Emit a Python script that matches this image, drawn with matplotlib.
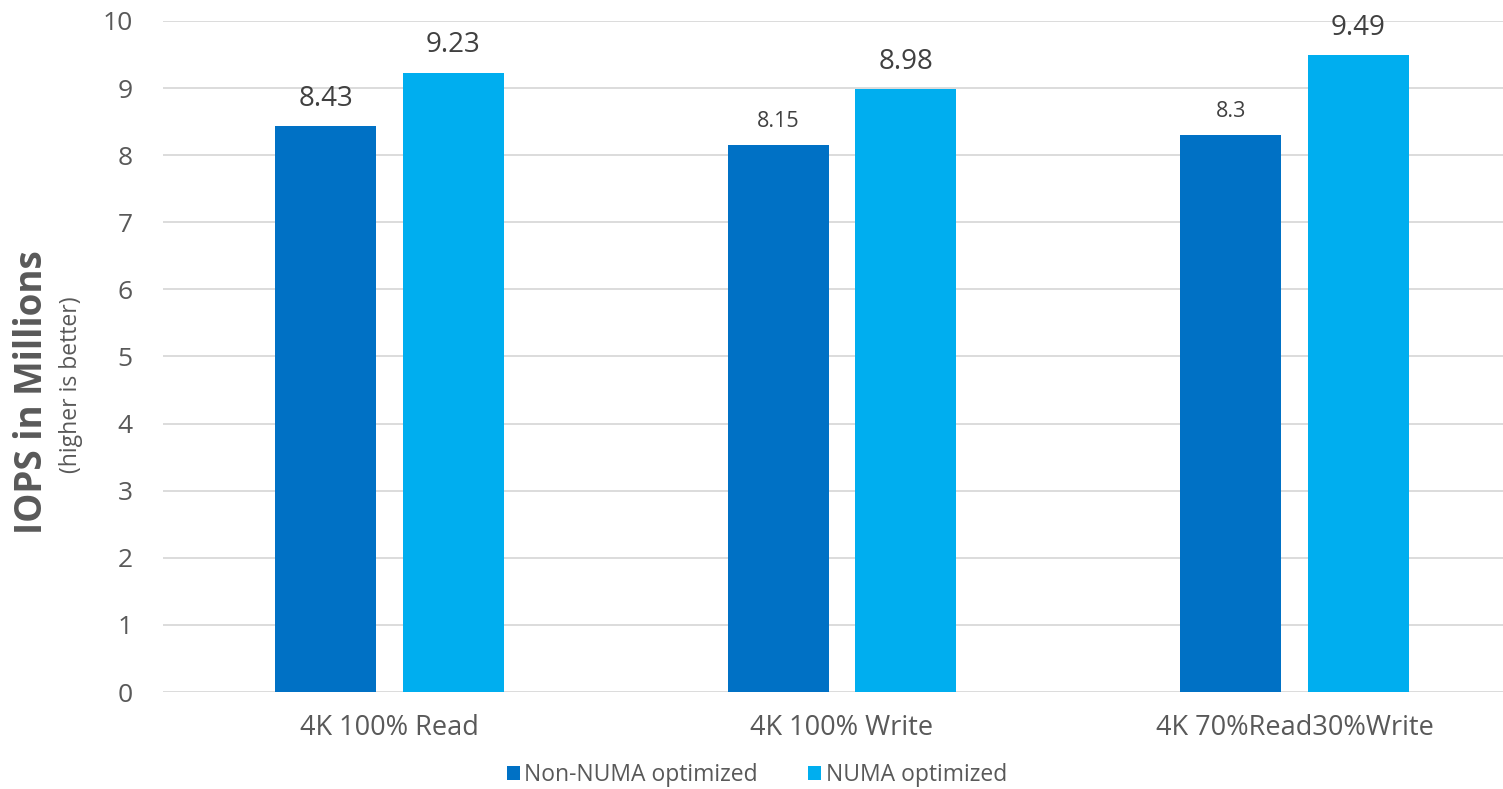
import matplotlib
matplotlib.use("Agg")
import matplotlib.pyplot as plt
import numpy as np

categories = ["4K 100% Read", "4K 100% Write", "4K 70%Read30%Write"]
non_numa = [8.43, 8.15, 8.3]
numa = [9.23, 8.98, 9.49]
series_names = ["Non-NUMA optimized", "NUMA optimized"]

DARK = "#0071C5"
LIGHT = "#00AEEF"
GRID = "#D9D9D9"
TXT = "#595959"
LBL = "#404040"

plt.rcParams["font.family"] = ["Open Sans", "DejaVu Sans"]

fig = plt.figure(figsize=(15.03, 7.89), dpi=100)
ax = fig.add_axes([163 / 1503, 1 - 692 / 789, 1358 / 1503, 671 / 789])

x = np.arange(len(categories))
w = 0.2235
off = 0.141
b1 = ax.bar(x - off, non_numa, w, color=DARK, label=series_names[0], zorder=3)
b2 = ax.bar(x + off, numa, w, color=LIGHT, label=series_names[1], zorder=3)

# label sizes differ in the original
sizes1 = [20, 15.5, 15.5]
sizes2 = [20, 20, 20]
for bar, v, s in zip(b1, non_numa, sizes1):
    ax.text(bar.get_x() + bar.get_width() / 2, v + 0.2, f"{v:g}",
            ha="center", va="bottom", fontsize=s, color=LBL)
for bar, v, s in zip(b2, numa, sizes2):
    ax.text(bar.get_x() + bar.get_width() / 2, v + 0.2, f"{v:g}",
            ha="center", va="bottom", fontsize=s, color=LBL)

ax.set_xlim(-0.5, 2.5)
ax.set_ylim(0, 10)
ax.set_yticks(range(0, 11))
ax.yaxis.grid(True, color=GRID, linewidth=1.3, zorder=0)
ax.set_axisbelow(True)
for sp in ax.spines.values():
    sp.set_visible(False)
ax.tick_params(axis="both", length=0, colors=TXT)
ax.tick_params(axis="y", pad=22, labelsize=19)
ax.tick_params(axis="x", pad=16, labelsize=19.5)
ax.set_xticks(x)
ax.set_xticklabels(categories)

fig.text(32 / 1503, 1 - 392 / 789, "IOPS in Millions", rotation=90,
         ha="center", va="center", fontsize=26.5, fontweight="bold", color=TXT)
fig.text(71 / 1503, 1 - 385 / 789, "(higher is better)", rotation=90,
         ha="center", va="center", fontsize=16.5, color=TXT)

fig.legend(handles=[b1, b2], labels=series_names, loc="center",
           bbox_to_anchor=(757 / 1503, 1 - 775 / 789), ncol=2, frameon=False,
           fontsize=16.5, labelcolor=TXT, handlelength=0.55, handleheight=0.55,
           handletextpad=0.2, columnspacing=2.2)

fig.savefig("out.png", dpi=100)
